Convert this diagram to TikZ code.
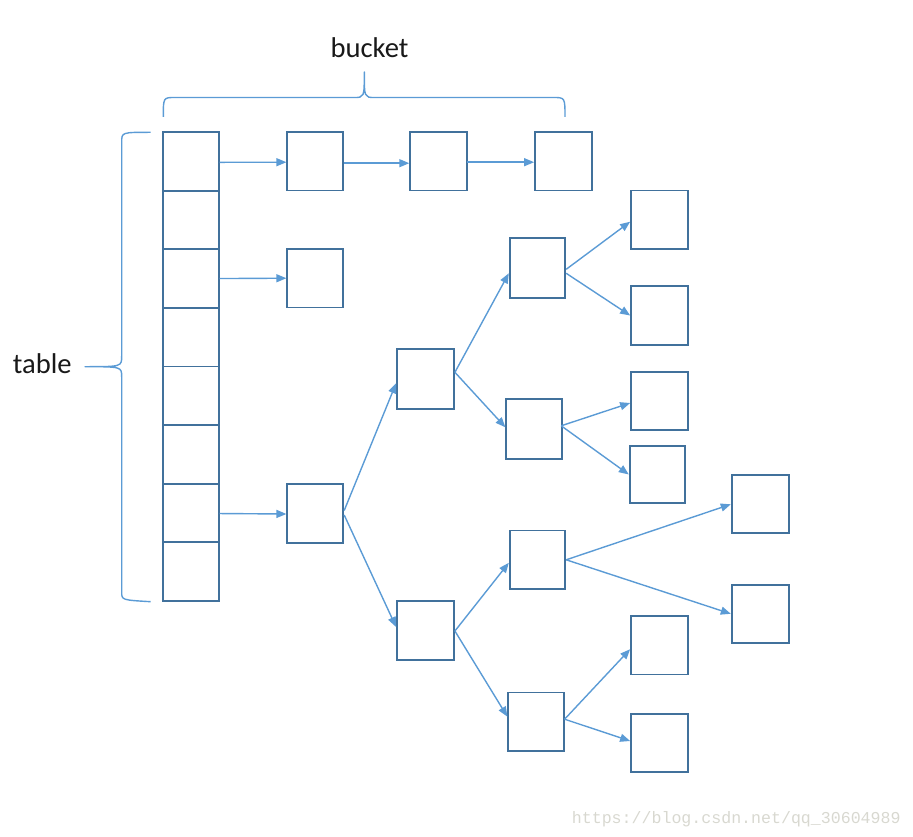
\documentclass[tikz,border=0pt]{standalone}
\usepackage{fontspec}
\setmainfont{Carlito}
\newfontfamily\wmfont{Liberation Mono}
\usetikzlibrary{arrows.meta}
\definecolor{boxblue}{HTML}{41719C}
\definecolor{arrblue}{HTML}{5B9BD5}
\definecolor{wmgray}{RGB}{216,216,208}
\tikzset{
  cell/.style={draw=boxblue, line width=1.8pt, inner sep=0pt,
    minimum width=56pt, minimum height=58.5pt},
  tcell/.style={cell, minimum width=55.5pt, minimum height=58.6pt},
  link/.style={draw=arrblue, line width=1.4pt, -{Triangle[length=10pt,width=8pt]}},
  bracestyle/.style={draw=arrblue, line width=1.4pt, line join=round},
  lbl/.style={font=\fontsize{28.6}{34}\selectfont, text=black!90, inner sep=0pt, anchor=base},
  wm/.style={font=\wmfont\fontsize{16.6}{20}\selectfont, text=wmgray, inner sep=0pt, anchor=base west}
}
\begin{document}
\begin{tikzpicture}[x=1pt,y=-1pt]
\useasboundingbox (0,0) rectangle (913,837);
% table column
\foreach \i in {1,...,8}{
  \node[tcell] (t\i) at (190.9,{132+58.62*(\i-0.5)}) {};
}
% row 1 chain
\node[cell] (r1a) at (315.3,161.2) {};
\node[cell, minimum width=57pt] (r1b) at (438.7,161.2) {};
\node[cell, minimum width=57pt] (r1c) at (563.5,161.2) {};
% row 3
\node[cell] (r3) at (315.3,278.2) {};
% row 7 tree
\node[cell] (b) at (315.3,513.5) {};
\node[cell, minimum width=57pt, minimum height=60pt] (a1) at (425.5,379.3) {};
\node[cell, minimum width=57pt] (a2) at (425.5,630.5) {};
\node[cell, minimum width=55.6pt, minimum height=60pt] (c1) at (537.5,268.3) {};
\node[cell, minimum height=59.7pt] (c2) at (534.3,428.8) {};
\node[cell, minimum width=57.3pt] (d1) at (659.7,219.7) {};
\node[cell, minimum width=57.3pt] (d2) at (659.7,315.5) {};
\node[cell, minimum width=57.3pt] (d3) at (659.7,401) {};
\node[cell, minimum width=55.6pt, minimum height=57.6pt] (d4) at (657.5,474.5) {};
\node[cell, minimum width=55.6pt] (e1) at (537.5,559.8) {};
\node[cell, minimum width=55.4pt] (e2) at (536,721.7) {};
\node[cell, minimum width=57pt, minimum height=58pt] (f1) at (760.2,504.3) {};
\node[cell, minimum width=57pt, minimum height=58.3pt] (f2) at (760.2,613.8) {};
\node[cell, minimum width=57.3pt] (g1) at (659.7,645.2) {};
\node[cell, minimum width=57.3pt] (g2) at (659.7,743) {};
% arrows
\draw[link] ([yshift=-1pt]t1.east) -- ([yshift=-1pt]r1a.west);
\draw[link] ([yshift=-2pt]r1a.east) -- ([yshift=-2pt]r1b.west);
\draw[link] ([xshift=-1.5pt,yshift=-1pt]r1b.east) -- ([yshift=-1pt]r1c.west);
\draw[link] (t3.east) -- (r3.west);
\draw[link] ([yshift=-0.5pt]t7.east) -- ([yshift=-0.5pt]b.west);
\draw[link] ([yshift=3pt]b.east) -- ([yshift=-4pt]a1.west);
\draw[link] ([yshift=-1.5pt]b.east) -- ([yshift=3.5pt]a2.west);
\draw[link] ([yshift=7pt]a1.east) -- ([yshift=-5pt]c1.west);
\draw[link] ([yshift=7pt]a1.east) -- ([yshift=1.5pt]c2.west);
\draw[link] ([yshift=-1pt]c1.east) -- ([yshift=-2pt]d1.west);
\draw[link] ([yshift=-5pt]c1.east) -- (d2.west);
\draw[link] ([xshift=-2pt,yshift=3pt]c2.east) -- ([yshift=-2pt]d3.west);
\draw[link] ([xshift=-2pt,yshift=3pt]c2.east) -- (d4.west);
\draw[link] ([yshift=-0.5pt]a2.east) -- ([yshift=-3pt]e1.west);
\draw[link] ([yshift=-0.5pt]a2.east) -- ([yshift=5pt]e2.west);
\draw[link] (e1.east) -- (f1.west);
\draw[link] (e1.east) -- (f2.west);
\draw[link] ([yshift=2.5pt]e2.east) -- ([yshift=-4pt]g1.west);
\draw[link] ([yshift=2.5pt]e2.east) -- ([yshift=2pt]g2.west);
% braces
\coordinate (tbL) at (163.3,117);
\coordinate (tbR) at (565,117);
\coordinate (tbTip) at (364.3,72);
\draw[bracestyle] (tbL) .. controls (163.3,97.5) .. (175,97.5) -- (354,97.5)
  .. controls (364.3,97.5) .. (tbTip) .. controls (364.3,97.5) .. (374.6,97.5)
  -- (553,97.5) .. controls (565,97.5) .. (tbR);
\coordinate (lbT) at (150.7,132.3);
\coordinate (lbB) at (150.7,601.7);
\coordinate (lbTip) at (85,366.7);
\draw[bracestyle] (lbT) .. controls (121.7,132.3) .. (121.7,142) -- (121.7,356)
  .. controls (121.7,366.7) .. (lbTip) .. controls (121.7,366.7) .. (121.7,377)
  -- (121.7,592) .. controls (121.7,600) .. (lbB);
% labels
\node[lbl] (bucket) at (369.5,58) {bucket};
\node[lbl] (table) at (42.2,373.3) {table};
\node[wm] (wmark) at (571.7,823) {https://blog.csdn.net/qq\_30604989};
\end{tikzpicture}
\end{document}
